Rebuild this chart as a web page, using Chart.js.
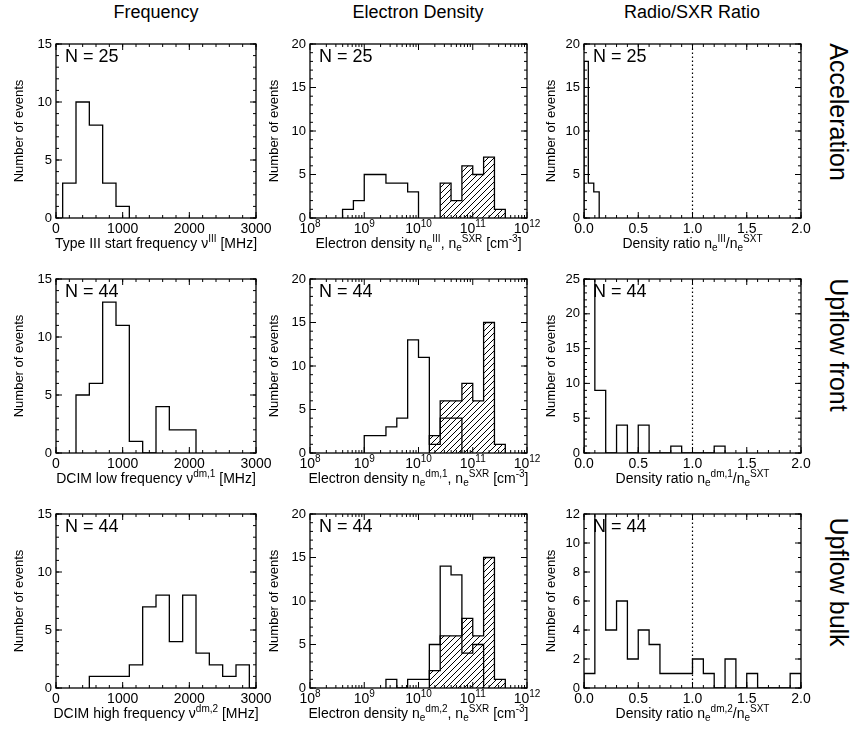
<!DOCTYPE html>
<html>
<head>
<meta charset="utf-8">
<script src="https://cdn.jsdelivr.net/npm/chart.js@4.4.0/dist/chart.umd.min.js"></script>
<style>
  body { margin: 0; background: #fff; }
  #wrap { position: relative; width: 853px; height: 733px; background: #fff; overflow: hidden;
          font-family: "Liberation Sans", Arial, sans-serif; color: #000; }
  #wrap canvas { position: absolute; }
  .colt { position: absolute; top: 3px; font-size: 18px; line-height: 18px; transform: translateX(-50%); white-space: nowrap; }
  .rowt { position: absolute; font-size: 25px; line-height: 25px; white-space: nowrap;
          transform: translate(-50%, -50%) rotate(90deg); }
</style>
</head>
<body>
<div id="wrap">
  <div class="colt" style="left:156px">Frequency</div>
  <div class="colt" style="left:418px">Electron Density</div>
  <div class="colt" style="left:692px">Radio/SXR Ratio</div>
  <div class="rowt" style="left:838px; top:112px">Acceleration</div>
  <div class="rowt" style="left:838px; top:345px">Upflow front</div>
  <div class="rowt" style="left:838px; top:582px">Upflow bulk</div>
</div>
<script>
// ---- data: histogram bin edges + counts ----
// start frequency [MHz]
var accFreqEdges = [100, 300, 500, 700, 900, 1100];
var accFreqCounts = [3, 10, 8, 3, 1];
var frontFreqEdges = [300, 500, 700, 900, 1100, 1300, 1500, 1700, 1900, 2100];
var frontFreqCounts = [5, 6, 13, 11, 1, 0, 4, 2, 2];
var bulkFreqEdges = [500, 700, 900, 1100, 1300, 1500, 1700, 1900, 2100, 2300, 2500, 2700, 2900];
var bulkFreqCounts = [1, 1, 1, 2, 7, 8, 4, 8, 3, 2, 1, 2];

// electron density, edges in log10(cm^-3); radio = open, SXR = hatched
var accRadioEdges = [8.6, 8.8, 9.0, 9.2, 9.4, 9.6, 9.8, 10.0];
var accRadioCounts = [1, 2, 5, 5, 4, 4, 3];
var accSxrEdges = [10.4, 10.6, 10.8, 11.0, 11.2, 11.4, 11.6];
var accSxrCounts = [4, 2, 6, 5, 7, 1];
var frontRadioEdges = [9.0, 9.2, 9.4, 9.6, 9.8, 10.0, 10.2, 10.4, 10.6, 10.8];
var frontRadioCounts = [2, 2, 3, 4, 13, 11, 1, 4, 4];
var frontSxrEdges = [10.2, 10.4, 10.6, 10.8, 11.0, 11.2, 11.4, 11.6];
var frontSxrCounts = [2, 6, 6, 8, 6, 15, 1];
var bulkRadioEdges = [9.4, 9.6, 9.8, 10.0, 10.2, 10.4, 10.6, 10.8, 11.0, 11.2];
var bulkRadioCounts = [1, 0, 1, 1, 5, 14, 13, 4, 5];
var bulkSxrEdges = [10.2, 10.4, 10.6, 10.8, 11.0, 11.2, 11.4, 11.6];
var bulkSxrCounts = [2, 6, 6, 8, 6, 15, 1];

// density ratio radio/SXR
var accRatioEdges = [0.0, 0.04, 0.09, 0.14];
var accRatioCounts = [18, 4, 3];
var frontRatioEdges = [0.0, 0.1, 0.2, 0.3, 0.4, 0.5, 0.6, 0.7, 0.8, 0.9, 1.0, 1.1, 1.2, 1.3];
var frontRatioCounts = [25, 9, 0, 4, 0, 4, 0, 0, 1, 0, 0, 0, 1];
var bulkRatioEdges = [0.0, 0.1, 0.2, 0.3, 0.4, 0.5, 0.6, 0.7, 0.8, 0.9, 1.0,
                      1.1, 1.2, 1.3, 1.4, 1.5, 1.6, 1.7, 1.8, 1.9, 2.0];
var bulkRatioCounts = [1, 14, 4, 6, 2, 4, 3, 1, 1, 1, 2, 1, 0, 2, 0, 1, 0, 0, 0, 1];

var eventCounts = [25, 44, 44];
var unityRatio = 1.0;

// ticks
var freqTicks = [0, 1000, 2000, 3000];
var densExps = [8, 9, 10, 11, 12];
var ratioTicks = [0.0, 0.5, 1.0, 1.5, 2.0];
var freqYMax = 15, densYMax = 20;
var ratioYMax = [20, 25, 12];
var ratioYStep = [5, 5, 2];

// ---- layout ----
var FONT = '"Liberation Sans", Arial, sans-serif';
var rowTops = [44, 279, 514];
var colLefts = [56, 310, 584];
var colWidths = [200, 217, 217];
var plotH = 174;
var LM = 50, TM = 12, RM = 22, BM = 40;
var ytitlePad = [6, 7, 10];

function hatchPattern() {
  var c = document.createElement('canvas');
  c.width = 6; c.height = 6;
  var g = c.getContext('2d');
  g.fillStyle = '#fff';
  g.fillRect(0, 0, 6, 6);
  g.strokeStyle = '#000';
  g.lineWidth = 1;
  g.beginPath();
  g.moveTo(0, 6); g.lineTo(6, 0);
  g.moveTo(-1, 1); g.lineTo(1, -1);
  g.moveTo(5, 7); g.lineTo(7, 5);
  g.stroke();
  return g.createPattern(c, 'repeat');
}
var HATCH = hatchPattern();

// points at left bin edges, closed down to zero on both ends
function stepPts(edges, counts, toX) {
  var pts = [{ x: toX(edges[0]), y: 0 }];
  counts.forEach(function (c, i) { pts.push({ x: toX(edges[i]), y: c }); });
  pts.push({ x: toX(edges[edges.length - 1]), y: 0 });
  return pts;
}
function lin(v) { return v; }
function pow10(v) { return Math.pow(10, v); }

function outline(pts) {
  return { data: pts, stepped: 'before', borderColor: '#000', borderWidth: 1.3,
           pointRadius: 0, fill: false };
}
function hatched(pts) {
  return { data: pts, stepped: 'before', borderColor: '#000', borderWidth: 1.3,
           pointRadius: 0, fill: 'origin', backgroundColor: HATCH };
}

// text with super/subscripts: [text, 0 normal | 1 sup | -1 sub]
function rich(ctx, segs, cx, baseY, size) {
  var small = Math.round(size * 0.68);
  var w = 0;
  segs.forEach(function (s) {
    ctx.font = (s[1] ? small : size) + 'px ' + FONT;
    w += ctx.measureText(s[0]).width;
  });
  var x = cx - w / 2;
  ctx.textAlign = 'left';
  ctx.textBaseline = 'alphabetic';
  segs.forEach(function (s) {
    ctx.font = (s[1] ? small : size) + 'px ' + FONT;
    var dy = s[1] === 1 ? -size * 0.42 : (s[1] === -1 ? size * 0.22 : 0);
    ctx.fillText(s[0], x, baseY + dy);
    x += ctx.measureText(s[0]).width;
  });
}

function line(ctx, x1, y1, x2, y2) {
  ctx.beginPath(); ctx.moveTo(x1, y1); ctx.lineTo(x2, y2); ctx.stroke();
}

function decoPlugin(spec) {
  return {
    id: 'deco',
    afterDraw: function (chart) {
      var a = chart.chartArea, xs = chart.scales.x, ys = chart.scales.y, ctx = chart.ctx;
      ctx.save();
      ctx.strokeStyle = '#000';
      ctx.fillStyle = '#000';
      // reference line
      if (spec.ref !== undefined) {
        ctx.lineWidth = 1.2;
        ctx.setLineDash([1.5, 2.5]);
        var rx = xs.getPixelForValue(spec.ref);
        line(ctx, rx, a.bottom, rx, a.top);
        ctx.setLineDash([]);
      }
      // frame
      ctx.lineWidth = 1.3;
      ctx.strokeRect(a.left, a.top, a.right - a.left, a.bottom - a.top);
      // inside ticks
      ctx.lineWidth = 1;
      function xt(v, len) {
        var p = xs.getPixelForValue(v);
        line(ctx, p, a.bottom, p, a.bottom - len);
        line(ctx, p, a.top, p, a.top + len);
      }
      function yt(v, len) {
        var p = ys.getPixelForValue(v);
        line(ctx, a.left, p, a.left + len, p);
        line(ctx, a.right, p, a.right - len, p);
      }
      xs.ticks.forEach(function (t) { xt(t.value, 6); });
      ys.ticks.forEach(function (t) { yt(t.value, 6); });
      var v, k;
      if (spec.log) {
        for (k = 0; k < densExps.length - 1; k++)
          for (v = 2; v <= 9; v++) xt(v * Math.pow(10, densExps[k]), 3);
      } else {
        for (v = xs.min; v <= xs.max + 1e-9; v += spec.xMinor) xt(v, 3);
      }
      for (v = ys.min; v <= ys.max + 1e-9; v += spec.yMinor) yt(v, 3);
      // log tick labels 10^n
      if (spec.log) {
        densExps.forEach(function (e) {
          var p = xs.getPixelForValue(Math.pow(10, e));
          ctx.font = '14px ' + FONT;
          var w1 = ctx.measureText('10').width;
          ctx.font = '10px ' + FONT;
          var w2 = ctx.measureText(String(e)).width;
          var x0 = p - (w1 + w2) / 2;
          ctx.textAlign = 'left';
          ctx.textBaseline = 'alphabetic';
          ctx.font = '14px ' + FONT;
          ctx.fillText('10', x0, a.bottom + 15);
          ctx.font = '10px ' + FONT;
          ctx.fillText(String(e), x0 + w1, a.bottom + 9);
        });
      }
      // N label
      ctx.font = '18px ' + FONT;
      ctx.textAlign = 'left';
      ctx.textBaseline = 'alphabetic';
      ctx.fillText('N = ' + spec.n, a.left + 9, a.top + 18);
      // x title
      rich(ctx, spec.xLabel, (a.left + a.right) / 2, a.bottom + 30, 14);
      ctx.restore();
    }
  };
}

function panel(r, c, spec) {
  var cv = document.createElement('canvas');
  var W = colWidths[c];
  cv.width = W + LM + RM;
  cv.height = plotH + TM + BM;
  cv.style.left = (colLefts[c] - LM) + 'px';
  cv.style.top = (rowTops[r] - TM) + 'px';
  document.getElementById('wrap').appendChild(cv);
  new Chart(cv.getContext('2d'), {
    type: 'line',
    data: { datasets: spec.datasets },
    options: {
      responsive: false,
      animation: false,
      devicePixelRatio: 1,
      layout: { padding: { left: 0, top: TM, right: RM, bottom: 0 } },
      plugins: { legend: { display: false }, tooltip: { enabled: false } },
      scales: {
        x: {
          type: spec.log ? 'logarithmic' : 'linear',
          min: spec.xMin, max: spec.xMax,
          grid: { display: false, drawTicks: false },
          border: { display: false },
          ticks: { display: !spec.log, color: '#000', padding: 3, maxRotation: 0, autoSkip: false,
                   font: { family: FONT, size: 14 }, callback: spec.xFmt },
          afterBuildTicks: function (s) { s.ticks = spec.xTicks.map(function (v) { return { value: v }; }); },
          afterFit: function (s) { s.height = BM; s.paddingLeft = 0; s.paddingRight = 0; }
        },
        y: {
          min: 0, max: spec.yMax,
          grid: { display: false, drawTicks: false },
          border: { display: false },
          ticks: { stepSize: spec.yStep, color: '#000', padding: 4,
                   font: { family: FONT, size: 13 } },
          title: { display: true, text: 'Number of events', color: '#000',
                   font: { family: FONT, size: 13 }, padding: { top: ytitlePad[c], bottom: 0 } },
          afterFit: function (s) { s.width = LM; s.paddingTop = 0; s.paddingBottom = 0; }
        }
      }
    },
    plugins: [decoPlugin(spec)]
  });
}

var freqLabels = [
  [['Type III start frequency \u03bd', 0], ['III', 1], [' [MHz]', 0]],
  [['DCIM low frequency \u03bd', 0], ['dm,1', 1], [' [MHz]', 0]],
  [['DCIM high frequency \u03bd', 0], ['dm,2', 1], [' [MHz]', 0]]
];
var radioSup = ['III', 'dm,1', 'dm,2'];
function densLabel(s) {
  return [['Electron density n', 0], ['e', -1], [s, 1], [', n', 0], ['e', -1], ['SXR', 1],
          [' [cm', 0], ['-3', 1], [']', 0]];
}
function ratioLabel(s) {
  return [['Density ratio n', 0], ['e', -1], [s, 1], ['/n', 0], ['e', -1], ['SXT', 1]];
}

var freqSets = [[accFreqEdges, accFreqCounts], [frontFreqEdges, frontFreqCounts], [bulkFreqEdges, bulkFreqCounts]];
var radioSets = [[accRadioEdges, accRadioCounts], [frontRadioEdges, frontRadioCounts], [bulkRadioEdges, bulkRadioCounts]];
var sxrSets = [[accSxrEdges, accSxrCounts], [frontSxrEdges, frontSxrCounts], [bulkSxrEdges, bulkSxrCounts]];
var ratioSets = [[accRatioEdges, accRatioCounts], [frontRatioEdges, frontRatioCounts], [bulkRatioEdges, bulkRatioCounts]];

for (var r = 0; r < 3; r++) {
  panel(r, 0, {
    n: eventCounts[r], xLabel: freqLabels[r],
    xMin: 0, xMax: 3000, xTicks: freqTicks, xMinor: 200, xFmt: function (v) { return String(v); },
    yMax: freqYMax, yStep: 5, yMinor: 1,
    datasets: [outline(stepPts(freqSets[r][0], freqSets[r][1], lin))]
  });
  panel(r, 1, {
    n: eventCounts[r], xLabel: densLabel(radioSup[r]), log: true,
    xMin: 1e8, xMax: 1e12, xTicks: densExps.map(pow10),
    yMax: densYMax, yStep: 5, yMinor: 1,
    datasets: [outline(stepPts(radioSets[r][0], radioSets[r][1], pow10)),
               hatched(stepPts(sxrSets[r][0], sxrSets[r][1], pow10))]
  });
  panel(r, 2, {
    n: eventCounts[r], xLabel: ratioLabel(radioSup[r]), ref: unityRatio,
    xMin: 0, xMax: 2, xTicks: ratioTicks, xMinor: 0.1, xFmt: function (v) { return Number(v).toFixed(1); },
    yMax: ratioYMax[r], yStep: ratioYStep[r], yMinor: 1,
    datasets: [outline(stepPts(ratioSets[r][0], ratioSets[r][1], lin))]
  });
}
</script>
</body>
</html>
